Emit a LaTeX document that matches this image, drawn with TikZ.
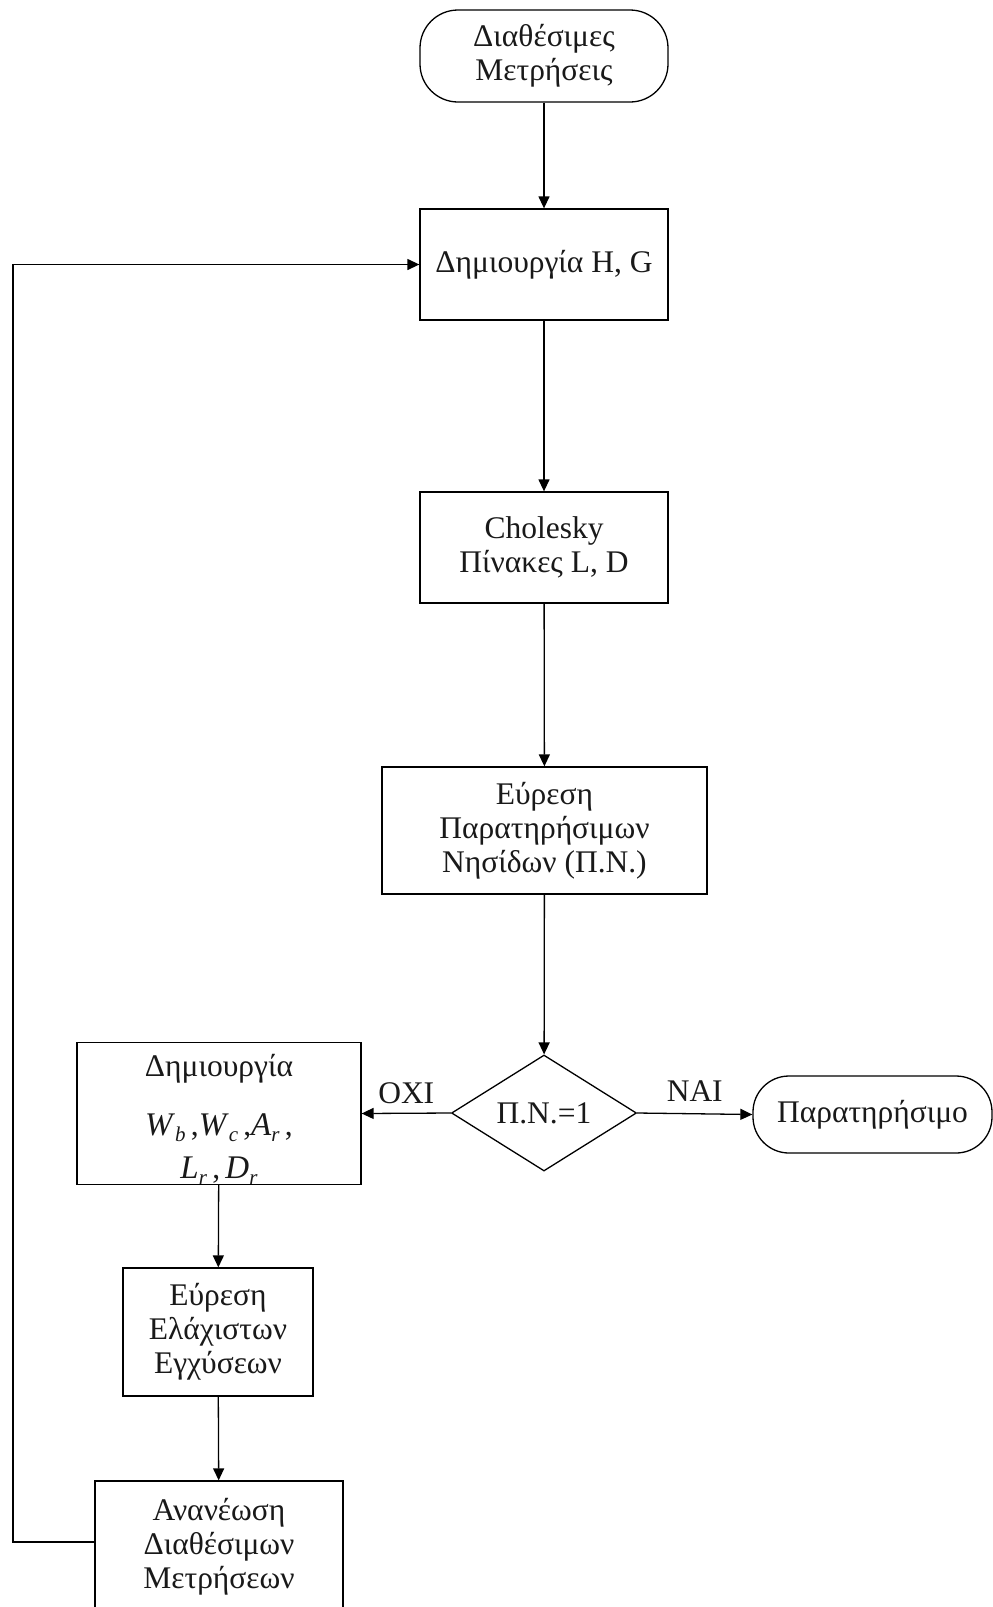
\documentclass[tikz,border=0pt]{standalone}
\usepackage{fontspec}
\setmainfont{Liberation Serif}
\usetikzlibrary{arrows.meta,shapes.geometric}

% italic symbol with a lowered italic index
\newcommand{\symidx}[2]{{\fontsize{33}{34}\selectfont\textit{#1}}\raisebox{-6pt}{\fontsize{21}{22}\selectfont\textit{#2}}}

\begin{document}
\begin{tikzpicture}[x=1pt,y=-1pt,
  every node/.style={font=\fontsize{31.5}{34}\selectfont, text=black!90},
  flow/.style={draw=black, line width=1.3pt, -{Triangle[length=12pt,width=11pt]}},
  procbox/.style={draw=black, line width=1.3pt, rectangle, align=center, inner sep=0pt},
  termbox/.style={draw=black, line width=1.3pt, rectangle, rounded corners=38pt, align=center, inner sep=0pt},
  decision/.style={draw=black, line width=1.3pt, diamond, inner sep=0pt, minimum width=185pt, minimum height=110pt},
  edgelabel/.style={inner sep=0pt}
]
\useasboundingbox (0,0) rectangle (993,1607);
\clip (0,0) rectangle (993,1607);

% main column
\node[termbox, minimum width=248pt, minimum height=92pt] (start) at (544,56)
  {Διαθέσιμες\\Μετρήσεις};
\node[procbox, minimum width=248pt, minimum height=111pt] (hg) at (544,264.5)
  {Δημιουργία H, G};
\node[procbox, minimum width=248pt, minimum height=111pt] (chol) at (544,547.5)
  {Cholesky\\Πίνακες L, D};
\node[procbox, minimum width=325pt, minimum height=127pt] (isl) at (544.5,830.5)
  {Εύρεση\\Παρατηρήσιμων\\Νησίδων (Π.Ν.)};
\node[decision] (dec) at (544,1113) {Π.Ν.=1};
\node[termbox, minimum width=239pt, minimum height=77pt, rounded corners=36pt] (obs) at (872.5,1114.5)
  {Παρατηρήσιμο};

% left column
\node[procbox, minimum width=284pt, minimum height=141pt] (mk) at (219,1113.5)
  {\rule{0pt}{34pt}Δημιουργία\\[25pt]
   \symidx{W}{b}\,,\symidx{W}{c}\,,\symidx{A}{r}\,,\\[9pt]
   \symidx{L}{r}\,,\,\symidx{D}{r}};
\node[procbox, minimum width=190pt, minimum height=128pt] (inj) at (218,1332)
  {Εύρεση\\Ελάχιστων\\Εγχύσεων};
\node[procbox, minimum width=248pt, minimum height=132pt] (upd) at (219,1547)
  {Ανανέωση\\Διαθέσιμων\\Μετρήσεων};

\coordinate (loopB) at (13,1542);
\coordinate (loopT) at (13,264.5);

% connectors
\draw[flow] (start) -- (hg);
\draw[flow] (hg) -- (chol);
\draw[flow] (chol) -- (isl);
\draw[flow] (isl) -- (dec);
\draw[flow] (dec.west) -- node[edgelabel, above=9pt] {ΟΧΙ} (mk.east);
\draw[flow] (dec.east) -- node[edgelabel, above=12pt] {ΝΑΙ} (obs.west);
\draw[flow] (mk) -- (inj);
\draw[flow] (inj) -- (upd);
\draw[flow] (upd.west |- loopB) -- (loopB) -- (loopT) -- (hg.west);
\end{tikzpicture}
\end{document}
